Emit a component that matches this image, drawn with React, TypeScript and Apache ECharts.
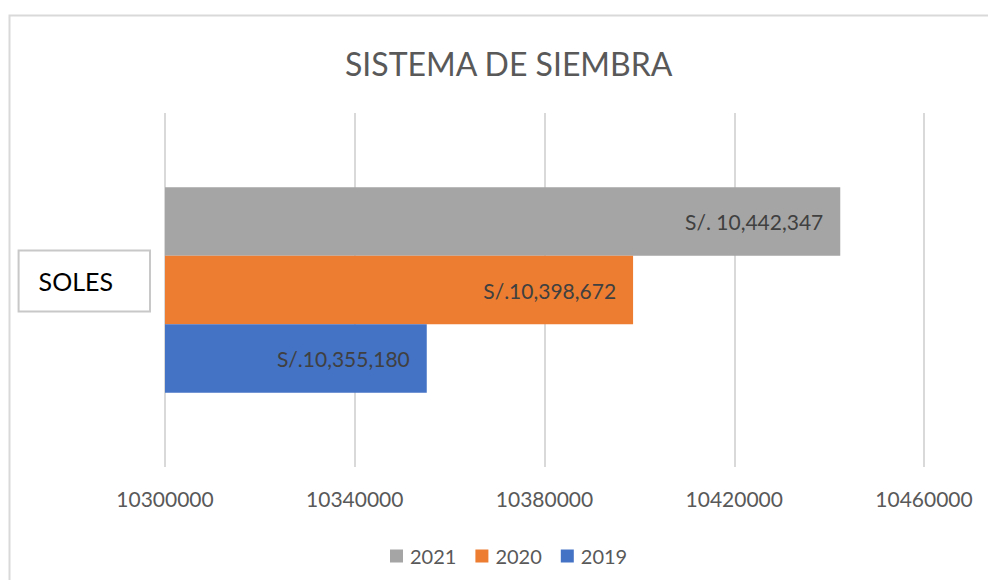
import React, { useEffect, useRef } from "react";
import * as echarts from "echarts";

const categories = ["SOLES"];
const seriesNames = ["2021", "2020", "2019"];
const seriesValues = [10442347, 10398672, 10355180];
const seriesLabels = ["S/. 10,442,347", "S/.10,398,672", "S/.10,355,180"];
const seriesColors = ["#a5a5a5", "#ed7d31", "#4472c4"];
const axisMin = 10300000;
const axisMax = 10460000;
const axisInterval = 40000;

const FONT = "Lato, 'Open Sans', sans-serif";

export default function App() {
  const ref = useRef<HTMLDivElement>(null);
  useEffect(() => {
    if (!ref.current) return;
    const chart = echarts.init(ref.current, undefined, { renderer: "svg" });
    chart.setOption({
      animation: false,
      backgroundColor: "#ffffff",
      textStyle: { fontFamily: FONT },
      graphic: [
        {
          type: "rect",
          left: 7,
          top: 13,
          shape: { width: 1200, height: 800 },
          style: { fill: "none", stroke: "#d9d9d9", lineWidth: 2 },
          silent: true,
        },
      ],
      title: {
        text: "SISTEMA DE SIEMBRA",
        left: 340,
        top: 38,
        textStyle: {
          fontFamily: FONT,
          fontSize: 32,
          fontWeight: "normal",
          color: "#595959",
          lineHeight: 40,
        },
      },
      legend: {
        data: seriesNames,
        left: 385,
        top: 541,
        icon: "rect",
        itemWidth: 13,
        itemHeight: 13,
        itemGap: 19,
        textStyle: { fontFamily: FONT, fontSize: 20, color: "#595959", padding: [0, 0, 0, 2] },
      },
      grid: { left: 165, right: 64, top: 113, bottom: 113 },
      xAxis: {
        type: "value",
        min: axisMin,
        max: axisMax,
        interval: axisInterval,
        axisLine: { show: false },
        axisTick: { show: false },
        splitLine: { show: true, lineStyle: { color: "#d9d9d9", width: 2 } },
        axisLabel: {
          fontFamily: FONT,
          fontSize: 21,
          color: "#595959",
          margin: 21,
          formatter: (v: number) => String(v),
        },
      },
      yAxis: {
        type: "category",
        data: categories,
        axisLine: { show: false },
        axisTick: { show: false },
        axisLabel: {
          margin: 15,
          padding: [0, 0, 18, 0],
          formatter: (v: string) => `{box|${v}}`,
          rich: {
            box: {
              fontFamily: FONT,
              fontSize: 25,
              color: "#000000",
              borderColor: "#c8c8c8",
              borderWidth: 2,
              padding: [18, 37, 18, 20],
            },
          },
        },
      },
      series: seriesNames.map((name, i) => ({
        name,
        type: "bar",
        data: [seriesValues[i]],
        barGap: "0%",
        barCategoryGap: "42%",
        itemStyle: { color: seriesColors[i] },
        label: {
          show: true,
          position: "insideRight",
          distance: 17,
          formatter: () => seriesLabels[i],
          fontFamily: FONT,
          fontSize: 21,
          color: "#404040",
        },
      })),
    });
    return () => chart.dispose();
  }, []);
  return (
    <div
      ref={ref}
      style={{ position: "fixed", left: 0, top: 0, width: 988, height: 580 }}
    />
  );
}
